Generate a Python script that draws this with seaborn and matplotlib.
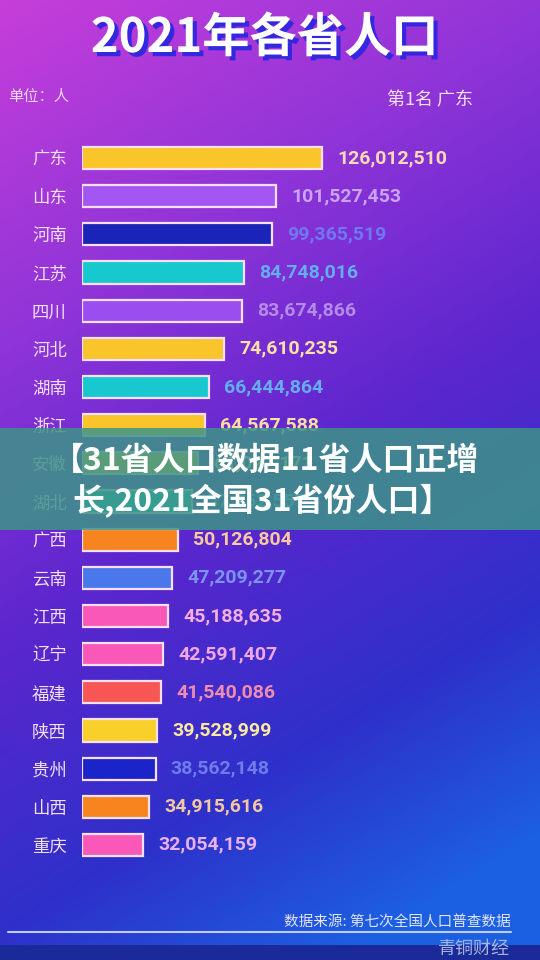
import matplotlib
matplotlib.use("Agg")
import matplotlib.pyplot as plt
import matplotlib.patheffects as pe
from matplotlib.colors import LinearSegmentedColormap
from matplotlib.patches import Rectangle
import numpy as np
import seaborn as sns

# data
provinces = ['广东', '山东', '河南', '江苏', '四川', '河北', '湖南', '浙江', '安徽', '湖北',
             '广西', '云南', '江西', '辽宁', '福建', '陕西', '贵州', '山西', '重庆']
population = [126012510, 101527453, 99365519, 84748016, 83674866, 74610235, 66444864,
              64567588, 61027171, 57752557, 50126804, 47209277, 45188635, 42591407,
              41540086, 39528999, 38562148, 34915616, 32054159]
bar_colors = ['#F9C52B', '#A456F2', '#1A24B8', '#18C8CF', '#9B4DF0', '#F9C52B', '#18C8CF',
              '#F9C52B', '#F9C52B', '#18C8CF', '#F7841F', '#4A78EC', '#FA58B8', '#FA58B8',
              '#F85555', '#F9D02A', '#1A24C8', '#F7841F', '#FA58B8']
label_colors = ['#FAD9B5', '#C9A4F5', '#6F78F0', '#64AEF0', '#B58AE8', '#FCE0A8', '#64AEF0',
                '#F6DFA0', '#F6DFA0', '#64AEF0', '#F8C9A0', '#7C93F0', '#F4AEE0', '#F0A8E8',
                '#F08CB0', '#FCE8A0', '#6E7CEC', '#F5C7A0', '#EAB0F0']

sns.set_style("white")
plt.rcParams['font.family'] = ['Noto Sans CJK SC', 'DejaVu Sans']

fig = plt.figure(figsize=(5.4, 9.6), dpi=100)

# gradient background
bg = fig.add_axes([0, 0, 1, 1], zorder=-5)
yy, xx = np.mgrid[0:1:240j, 0:1:135j]
t = np.clip(yy * 0.82 + xx * 0.28, 0, 1)
cmap = LinearSegmentedColormap.from_list(
    'bg', [(0, '#C63EDA'), (0.3, '#8E34D8'), (0.55, '#5C26CE'), (0.8, '#2E30CA'), (1, '#1C60E2')])
bg.imshow(t, cmap=cmap, aspect='auto', extent=[0, 1, 0, 1], origin='upper')
bg.set_axis_off()

ax = fig.add_axes([82 / 540, 1 - 864 / 960, 1 - 82 / 540, 725 / 960])
ax.set_facecolor('none')
sns.barplot(x=population, y=provinces, hue=provinces, palette=bar_colors,
            legend=False, orient='h', width=0.58, ax=ax, saturation=1)
for bar in ax.patches:
    bar.set_edgecolor('#F6E0F2')
    bar.set_linewidth(1.6)

for i, v in enumerate(population):
    ax.annotate(f"{v:,}", xy=(v, i), xytext=(11, 0), textcoords='offset points',
                va='center', ha='left', fontsize=14, fontweight='bold',
                family='Roboto', color=label_colors[i])

ax.set_xlim(0, 2.4e8)
ax.set_ylim(18.5, -0.5)
ax.set_xlabel('')
ax.set_ylabel('')
ax.set_xticks([])
ax.tick_params(axis='y', length=0, pad=11, labelsize=12.5, labelcolor='#F3E0F5')
sns.despine(ax=ax, left=True, bottom=True)

# title and header texts
fig.text(0.49, 1 - 38 / 960, '2021年各省人口', ha='center', va='center', fontsize=34,
         fontweight='heavy', color='white',
         path_effects=[pe.withSimplePatchShadow(offset=(3, -3), shadow_rgbFace='#3328E0', alpha=1)])
fig.text(8 / 540, 1 - 97 / 960, '单位：人', ha='left', va='center', fontsize=11, color='#F0D8F5')
fig.text(473 / 540, 1 - 100 / 960, '第1名 广东', ha='right', va='center', fontsize=13, color='#F8E0F5')

# banner overlay
fig.patches.append(Rectangle((0, 1 - 530 / 960), 1, 102 / 960, transform=fig.transFigure,
                             facecolor='#3E9488', edgecolor='none', linewidth=0,
                             alpha=0.85, zorder=5))
fig.text(52 / 540, 1 - 461 / 960, '【31省人口数据11省人口正增', ha='left', va='center',
         fontsize=23, fontweight='bold', color='white', zorder=6)
fig.text(72 / 540, 1 - 501 / 960, '长,2021全国31省份人口】', ha='left', va='center',
         fontsize=23, fontweight='bold', color='white', zorder=6)

# footer
fig.text(511 / 540, 1 - 923 / 960, '数据来源: 第七次全国人口普查数据', ha='right', va='center',
         fontsize=10.5, color='#E2E4F8')
fig.lines.append(plt.Line2D([8 / 540, 511 / 540], [1 - 932 / 960, 1 - 932 / 960],
                            transform=fig.transFigure, color='#C0CCF8', lw=1.5))
fig.patches.append(Rectangle((0, 0), 1, 15 / 960, transform=fig.transFigure,
                             facecolor='#1A2A98', edgecolor='none', linewidth=0, zorder=2))
fig.text(510 / 540, 1 - 958 / 960, '青铜财经', ha='right', va='bottom', fontsize=13,
         color='#A8B4E0', zorder=3)

fig.savefig('out.png', dpi=100)
